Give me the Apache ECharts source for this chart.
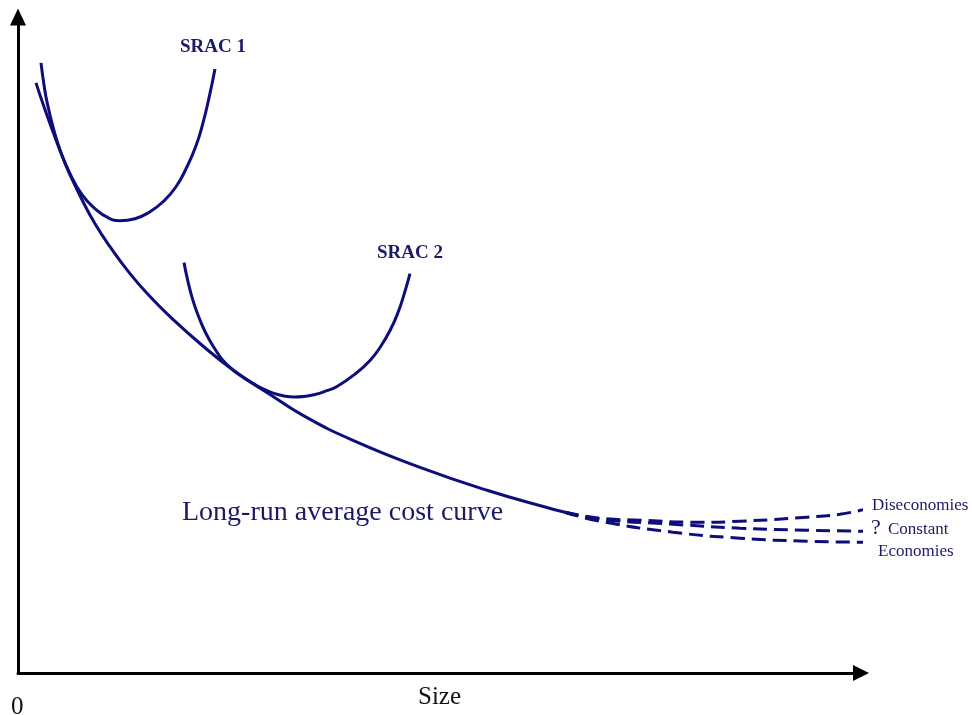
<!DOCTYPE html>
<html>
<head>
<meta charset="utf-8">
<script src="https://cdn.jsdelivr.net/npm/echarts@6/dist/echarts.min.js"></script>
<style>html,body{margin:0;padding:0;background:#fff;}#chart{width:972px;height:715px;}</style>
</head>
<body>
<div id="chart"></div>
<script>
// Size (x) and cost (y) values, arbitrary units
var lracSize = [18, 26, 35, 44, 52, 64, 77, 92, 112, 132, 152, 182, 217, 252, 285, 335, 402, 469, 535, 547];
var lracCost = [591, 567, 542, 518, 499, 474, 450, 427, 400, 377, 357, 330, 302, 279, 258, 233, 206, 183, 164, 161];

var srac1Size = [23, 26, 29, 35, 42, 52, 64, 77, 90, 102, 117, 132, 145, 158, 169, 178, 185, 191, 197];
var srac1Cost = [611, 589, 572, 547, 524, 500, 479, 465, 456, 453, 455, 462, 472, 487, 507, 528, 551, 576, 605];

var srac2Size = [166, 170, 175, 181, 188, 196, 205, 217, 232, 244, 256, 266, 276, 286, 297, 308, 319, 339, 352, 362, 372, 380, 386, 392];
var srac2Cost = [411, 392, 373, 356, 340, 326, 313, 302, 292, 285, 280, 277.5, 276.5, 277, 279, 282.5, 287, 301, 313, 326, 343, 361, 379, 400];

var disSize = [547, 582, 622, 682, 722, 789, 822, 847];
var disCost = [161, 155, 153, 151, 152, 156, 159, 164];

var conSize = [547, 582, 655, 722, 789, 847];
var conCost = [161, 154, 149, 145, 143, 142];

var ecoSize = [547, 582, 655, 722, 789, 847];
var ecoCost = [161, 152, 141, 135, 132, 131];

var xAxisName = 'Size';
var originLabel = '0';
var labels = {
  srac1: 'SRAC 1',
  srac2: 'SRAC 2',
  lrac: 'Long-run average cost curve',
  dis: 'Diseconomies',
  q: '?',
  con: 'Constant',
  eco: 'Economies'
};

function pairs(xs, ys) { return xs.map(function (x, i) { return [x, ys[i]]; }); }

var NAVY = '#0d0d7c';
var TXT = '#1a1a66';
var FONT = '"Liberation Serif", "Times New Roman", serif';

function solid(name, xs, ys) {
  return { name: name, type: 'line', data: pairs(xs, ys), smooth: 0.5, symbol: 'none', clip: false,
    lineStyle: { color: NAVY, width: 3 }, silent: true };
}
function dashed(name, xs, ys) {
  return { name: name, type: 'line', data: pairs(xs, ys), smooth: 0.5, symbol: 'none', clip: false,
    lineStyle: { color: NAVY, width: 3, type: [14, 7] }, silent: true };
}

var chart = echarts.init(document.getElementById('chart'), null, { renderer: 'canvas' });
chart.setOption({
  animation: false,
  backgroundColor: '#ffffff',
  grid: { left: 18, top: 17, right: 111, bottom: 41, containLabel: false },
  xAxis: {
    type: 'value', min: 0, max: 843,
    name: xAxisName, nameLocation: 'middle', nameGap: 12,
    nameTextStyle: { fontFamily: FONT, fontSize: 25, color: '#111', verticalAlign: 'top' },
    axisLine: { show: true, symbol: ['none', 'triangle'], symbolSize: [16, 16], lineStyle: { color: '#000', width: 3 } },
    axisTick: { show: false }, axisLabel: { show: false }, splitLine: { show: false }
  },
  yAxis: {
    type: 'value', min: 0, max: 657,
    axisLine: { show: true, symbol: ['none', 'triangle'], symbolSize: [16, 17], lineStyle: { color: '#000', width: 3 } },
    axisTick: { show: false }, axisLabel: { show: false }, splitLine: { show: false }
  },
  series: [
    solid('LRAC', lracSize, lracCost),
    solid('SRAC 1', srac1Size, srac1Cost),
    solid('SRAC 2', srac2Size, srac2Cost),
    dashed('Diseconomies', disSize, disCost),
    dashed('Constant', conSize, conCost),
    dashed('Economies', ecoSize, ecoCost)
  ],
  graphic: [
    { type: 'text', left: 180, top: 38, style: { text: labels.srac1, fontFamily: FONT, fontSize: 19, fontWeight: 'bold', fill: TXT } },
    { type: 'text', left: 377, top: 244, style: { text: labels.srac2, fontFamily: FONT, fontSize: 19, fontWeight: 'bold', fill: TXT } },
    { type: 'text', left: 182, top: 499, style: { text: labels.lrac, fontFamily: FONT, fontSize: 28, fill: TXT } },
    { type: 'text', left: 872, top: 497, style: { text: labels.dis, fontFamily: FONT, fontSize: 17, fill: TXT } },
    { type: 'text', left: 871, top: 517, style: { text: labels.q, fontFamily: FONT, fontSize: 22, fill: TXT } },
    { type: 'text', left: 888, top: 521, style: { text: labels.con, fontFamily: FONT, fontSize: 17, fill: TXT } },
    { type: 'text', left: 878, top: 543, style: { text: labels.eco, fontFamily: FONT, fontSize: 17, fill: TXT } },
    { type: 'text', left: 11, top: 695, style: { text: originLabel, fontFamily: FONT, fontSize: 25, fill: '#111' } }
  ]
});
</script>
</body>
</html>
